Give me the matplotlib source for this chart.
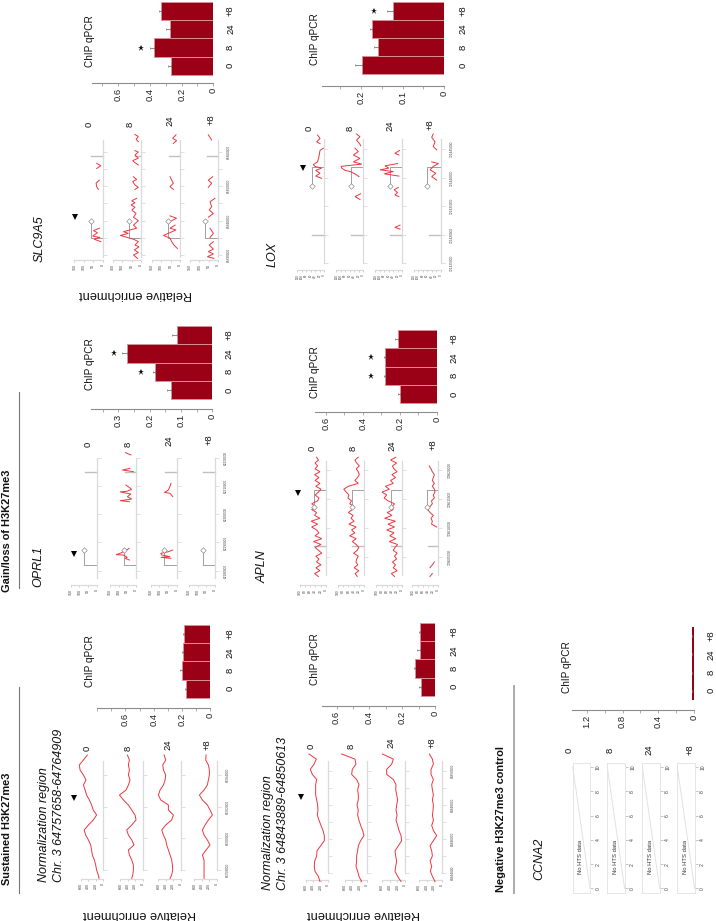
import numpy as np
from matplotlib import pyplot as plt

plt.rcParams["font.family"] = ["Liberation Sans", "DejaVu Sans"]

W, H = 716.0, 921.0
nan = float("nan")

times = ["0", "8", "24", "+8"]

# ---- ChIP qPCR bars, order 0, 8, 24, +8
bar_sust1 = [0.167, 0.20, 0.19, 0.186]
err_sust1 = [0.18, 0.215, 0.20, 0.195]
bar_sust2 = [0.085, 0.122, 0.09, 0.09]
err_sust2 = [0.10, 0.13, 0.11, 0.10]
bar_oprl1 = [0.132, 0.183, 0.271, 0.114]
err_oprl1 = [0.146, 0.188, 0.289, 0.128]
bar_apln = [0.20, 0.279, 0.279, 0.21]
err_apln = [0.21, 0.285, 0.285, 0.225]
bar_slc9a5 = [0.267, 0.373, 0.274, 0.33]
err_slc9a5 = [0.284, 0.40, 0.30, 0.34]
bar_lox = [0.198, 0.16, 0.173, 0.122]
err_lox = [0.214, 0.169, 0.178, 0.138]
bar_ccna2 = [0.016, 0.014, 0.014, 0.016]
err_ccna2 = [0.024, 0.022, 0.022, 0.024]

# star value per timepoint (None = no star)
star_oprl1 = [None, 0.228, 0.315, None]
star_apln = [None, 0.355, 0.355, None]
star_slc9a5 = [None, 0.455, None, None]
star_lox = [None, None, None, 0.168]

# ---- tracks, positions in kb
sust1_pos = [64757.474, 64757.684, 64758.0, 64758.316, 64758.632, 64758.947, 64759.263,
             64759.579, 64759.895, 64760.211, 64760.526, 64760.842, 64761.158, 64761.474,
             64761.789, 64762.105, 64762.421, 64762.737, 64763.053, 64763.368, 64763.684,
             64764.0, 64764.316, 64764.632, 64764.947, 64765.263]
sust1_t0 = [115, 135, 180, 205, 240, 295, 315, 340, 400, 475, 515, 400, 270, 180, 270, 315,
            375, 450, 490, 535, 465, 535, 625, 645, 535, 430]
sust1_t8 = [295, 268, 251, 251, 295, 358, 385, 233, 295, 385, 430, 295, 179, 206, 295, 385,
            519, 626, 447, 385, 340, 385, 358, 385, 358, 412]
sust1_t24 = [286, 242, 215, 224, 242, 286, 331, 376, 403, 465, 510, 403, 242, 197, 331, 331,
             537, 600, 555, 465, 420, 403, 465, 483, 403, 447]
sust1_t32 = [340, 340, 340, 340, 340, 385, 286, 179, 251, 340, 385, 313, 224, 116, 179, 251,
             385, 465, 340, 251, 224, 197, 197, 224, 295, 286]

sust2_pos = [64843.5, 64843.8, 64844.1, 64844.4, 64844.7, 64845.0, 64845.3, 64845.6, 64845.9,
             64846.2, 64846.5, 64846.8, 64847.1, 64847.4, 64847.7, 64848.0, 64848.3, 64848.6,
             64848.9, 64849.2, 64849.5, 64849.8, 64850.1, 64850.4, 64850.7, 64851.0]
sust2_t0 = [220, 264, 352, 370, 360, 308, 300, 202, 105, 105, 140, 194, 246, 290, 273, 282,
            308, 334, 334, 334, 308, 422, 475, 378, 316, 510]
sust2_t8 = [150, 220, 255, 300, 282, 282, 255, 238, 176, 88, 123, 176, 220, 255, 238, 273,
            238, 238, 255, 220, 282, 414, 396, 300, 326, 678]
sust2_t24 = [106, 194, 264, 246, 220, 246, 264, 176, 88, 106, 158, 194, 238, 211, 238, 220,
             194, 220, 246, 238, 308, 484, 484, 352, 308, 598]
sust2_t32 = [176, 246, 299, 264, 308, 246, 264, 308, 220, 132, 220, 264, 220, 246, 229, 220,
             246, 220, 246, 264, 220, 282, 282, 220, 246, 326]

oprl1_t0_pos, oprl1_t0 = [], []
oprl1_t8_pos = [62183.78, 62184.37, 62184.72, 62185.55, 62185.67, 62186.14, 62187.08, 62187.9, nan,
                62204.43, 62204.78, 62205.37, 62206.2, 62207.14, 62207.9, 62208.1, 62208.8,
                62209.5, 62210.33, nan, 62215.05, 62215.4, 62215.64, 62216.23, nan,
                62220.95, 62221.77]
oprl1_t8 = [38, 63, 50, 73, 115, 92, 60, 40, nan, 38, 92, 25, 50, 29, 92, 54, 25, 40, 58, nan,
            15, 50, 79, 35, nan, 29, 60]
oprl1_t24_pos = [62184.37, 62184.72, 62184.96, 62185.55, 62186.14, 62186.73, 62187.32, nan,
                 62206.2, 62207.38, 62207.73, 62208.56, 62209.97, 62210.9]
oprl1_t24 = [33, 92, 38, 86, 92, 48, 23, nan, 23, 38, 71, 48, 38, 33]
oprl1_t32_pos, oprl1_t32 = [], []

apln_pos = [128601.7, 128602.2, 128602.7, 128603.2, 128603.7, 128604.2, 128604.7, 128605.2,
            128605.7, 128606.2, 128606.7, 128607.2, 128607.7, 128608.2, 128608.7, 128609.2,
            128609.7, 128610.2, 128610.7, 128611.2, 128611.7, 128612.2, 128612.7, 128613.2,
            128613.7, 128614.2, 128614.7, 128615.2, 128615.7, 128616.2, 128616.7, 128617.2,
            128617.7, 128618.2, 128618.7, 128619.2, 128619.7, 128620.2, 128620.7, 128621.2,
            128621.7, 128622.2]
apln_t0 = [28, 43, 22, 38, 18, 35, 26, 38, 15, 28, 41, 18, 47, 15, 41, 26, 35, 54, 31, 56, 22,
           43, 35, 54, 38, 54, 31, 26, 41, 28, 18, 38, 22, 41, 26, 43, 22, 41, 31, 41, 28, 35]
apln_t8 = [26, 34, 20, 38, 24, 31, 28, 22, 40, 26, 20, 30, 45, 30, 55, 35, 48, 30, 58, 38, 50,
           42, 60, 45, 38, 55, 48, 62, 58, 68, 78, 60, 22, 35, 25, 18, 22, 30, 18, 28, 35, 22]
apln_t24 = [30, 42, 20, 35, 26, 38, 22, 30, 20, 35, 28, 18, 50, 25, 48, 32, 60, 30, 55, 26, 68,
            40, 58, 35, 40, 30, 55, 70, 60, 78, 50, 65, 35, 45, 26, 40, 20, 32, 38, 22, 45, 25]
apln_t32 = [32, 23, nan, 32, 23, 15, nan, nan, nan, nan, nan, nan, nan, nan, nan, nan, nan, 6,
            26, 23, 28, 19, 32, 41, 32, 23, 26, 15, 19, 13, 15, 23, 15, 23, 19, 15, 23, 28, 35,
            nan, nan, nan]

slc_t0_pos = [65833.9, 65834.6, 65835.1, 65835.5, 65836.5, 65837.1, 65837.8, nan, 65849.1,
              65849.9, 65850.9, 65851.8, nan, 65855.2, 65856.0, 65856.7]
slc_t0 = [10, 46, 14, 53, 28, 49, 18, nan, 23, 32, 35, 18, nan, 32, 10, 32]
slc_t8_pos = [65829.0, 65830.0, 65830.7, 65831.5, 65832.4, 65832.9, 65833.9, 65834.6, 65835.7,
              65836.3, 65836.8, 65837.8, 65838.7, 65840.0, 65841.0, 65842.1, 65843.1, 65843.9,
              65844.6, 65845.2, 65845.8, 65846.5, nan, 65849.1, 65849.7, 65850.4, 65851.4,
              65852.0, 65852.8, nan, 65856.2, 65856.9, 65857.5, 65858.2, 65859.1, 65860.0,
              65860.4, nan, 65863.0, 65863.7, 65864.5, 65865.1]
slc_t8 = [18, 40, 14, 35, 10, 32, 14, 40, 110, 67, 93, 23, 40, 14, 40, 26, 49, 32, 53, 32, 49,
          23, nan, 32, 14, 32, 44, 23, 40, nan, 14, 32, 44, 14, 32, 14, 32, nan, 14, 26, 14, 32]
slc_t24_pos = [65831.9, 65832.9, 65833.9, 65834.9, 65835.7, 65836.3, 65837.3, 65837.8, 65838.7,
               nan, 65840.0, 65840.7, 65841.4, nan, 65849.1, 65849.9, 65850.9, 65851.8, 65852.8,
               nan, 65862.5, 65863.3, 65864.0, 65865.0]
slc_t24 = [14, 32, 44, 53, 88, 62, 21, 53, 26, nan, 44, 18, 53, nan, 35, 53, 35, 44, 53, nan,
           35, 18, 39, 21]
slc_t32_pos = [65829.0, 65829.5, 65830.3, 65831.0, 65831.7, 65832.9, 65833.9, nan, 65835.1,
               65836.3, 65837.8, nan, 65841.0, 65842.1, 65843.1, 65844.1, 65845.5, 65846.5, nan,
               65849.7, 65850.9, 65851.8, 65852.8, nan, 65863.5, 65865.0]
slc_t32 = [23, 58, 26, 53, 26, 48, 26, nan, 44, 26, 44, nan, 53, 26, 48, 35, 44, 18, nan, 53,
           35, 53, 30, nan, 35, 53]

lox_t0_pos = [121439.9, 121440.3, 121440.8, 121441.3, 121441.7, 121442.0, 121442.3, 121442.8,
              121443.7, 121444.8, 121445.2, nan, 121446.0, 121446.3, 121446.9, 121447.5]
lox_t0 = [12, 38, 19, 38, 12, 41, 49, 30, 24, 19, 4, nan, 19, 34, 19, 30]
lox_t8_pos = [121436.2, 121436.7, 121437.2, nan, 121440.2, 121440.7, 121441.1, 121441.3,
              121441.7, 121442.0, 121442.4, 121442.8, 121443.4, 121444.0, 121444.6, 121445.2,
              nan, 121445.6, 121445.9, 121446.6, 121447.2, 121447.7]
lox_t8 = [15, 37, 12, nan, 19, 37, 59, 81, 96, 99, 7, 44, 15, 44, 22, 37, nan, 12, 15, 30, 15, 30]
lox_t24_pos = [121431.0, 121431.3, 121431.7, nan, 121436.7, 121437.0, 121437.4, 121437.9,
               121438.3, nan, 121440.3, 121440.7, 121441.1, 121441.4, 121441.7, 121442.1,
               121442.5, nan, 121444.0, 121444.3, 121444.8]
lox_t24 = [10, 33, 10, nan, 15, 33, 21, 36, 18, nan, 15, 80, 40, 99, 60, 77, 21, nan, 15, 33, 12]
lox_t32_pos = [121439.6, 121440.2, 121440.8, 121441.4, 121442.0, 121442.5, 121442.8, nan,
               121444.9, 121445.5, 121446.3, 121447.1, 121447.7]
lox_t32 = [18, 40, 22, 47, 33, 10, 40, nan, 18, 33, 25, 40, 33]

ccna2_pos = [0, 10]
ccna2_val = [0, 1]

# ---- drawing
fig = plt.figure(figsize=(7.16, 9.21), dpi=100)
GREY = "#dadada"
TXT = "#222222"


def px_axes(x0, y0, x1, y1):
    ax = fig.add_axes([x0 / W, 1 - y1 / H, (x1 - x0) / W, (y1 - y0) / H])
    ax.patch.set_visible(False)
    return ax


def txt(x, y, s, **kw):
    kw.setdefault("ha", "center")
    kw.setdefault("va", "center")
    kw.setdefault("rotation", 90)
    kw.setdefault("color", "#111111")
    fig.text(x / W, 1 - y / H, s, **kw)


def draw_bars(vals, errs, zero, left, per_unit, bar_top, bar_bot, axis_y, ticks, labels, label_x, stars=None,
              edge="#d98f96"):
    ax = px_axes(left, bar_top, zero, axis_y)
    ax.set_xlim((zero - left) / per_unit, 0)
    step = (bar_bot - bar_top) / 4.0
    ax.set_ylim(-0.5 - (axis_y - bar_bot) / step, 3.5)
    ypos = np.arange(4)
    ax.barh(ypos, vals, height=1.0, color="#9a0016", edgecolor=edge, linewidth=0.7)
    ax.errorbar(vals, ypos, xerr=[np.zeros(4), np.array(errs) - np.array(vals)], fmt="none",
                ecolor="#777777", elinewidth=0.6, capsize=0.8, capthick=0.5)
    if stars:
        for i, s in enumerate(stars):
            if s is not None:
                ax.plot(s, ypos[i], marker="*", ms=4.6, color="#111111", mew=0, clip_on=False)
    for k in ["left", "top", "right"]:
        ax.spines[k].set_visible(False)
    ax.spines["bottom"].set_color("#8c8c8c")
    ax.spines["bottom"].set_linewidth(0.8)
    ax.set_xticks(ticks)
    ax.set_xticklabels(labels, rotation=90, fontsize=6.8, color=TXT)
    ax.tick_params(axis="x", length=2, width=0.5, color="#8c8c8c", pad=1.5)
    ax.set_yticks([])
    for i, t in enumerate(times):
        txt(label_x, bar_bot - step * (i + 0.5), t, fontsize=6.8)


def draw_track(pos, val, zero, scale_px, vmax, ref, top, axis_y, spine, vticks, gticks, glabels, time_lab,
               diamond=None, stem=None, thick=None, vtext=2.6):
    (p1, y1), (p2, y2) = ref
    per_px = (p2 - p1) / (y1 - y2)
    ax = px_axes(zero - scale_px, top, zero, axis_y)
    ax.set_xlim(vmax, 0)
    ax.set_ylim(p1 - (axis_y - y1) * per_px, p2 + (y2 - top) * per_px)
    if len(pos):
        ax.plot(val, pos, color="#ee3540", lw=0.7, clip_on=False, solid_joinstyle="miter", zorder=3)
    if diamond is not None:
        d_val, d_pos = diamond
        ax.plot([0, d_val, d_val], [stem, stem, d_pos], color="#a0a0a0", lw=0.7, clip_on=False, zorder=2)
        ax.plot(d_val, d_pos, marker="D", ms=2.8, mfc="white", mec="#777777", mew=0.4, clip_on=False, zorder=4)
    if thick is not None:
        ax.plot([0, thick[1]], [thick[0], thick[0]], color="#c0c0c0", lw=1.0, clip_on=False, zorder=2)
    for k in ["left", "top"]:
        ax.spines[k].set_visible(False)
    for k in ["right", "bottom"]:
        ax.spines[k].set_color(GREY)
        ax.spines[k].set_linewidth(0.9)
    ax.spines["right"].set_bounds(spine[0], spine[1])
    ax.spines["bottom"].set_bounds(0, vmax)
    ax.yaxis.tick_right()
    ax.set_yticks(gticks)
    ax.set_yticklabels(glabels, rotation=90, va="center", fontsize=2.3, color="#444444")
    ax.tick_params(axis="y", length=3, width=0.6, color=GREY, pad=3.5)
    ax.set_xticks(vticks)
    ax.set_xticklabels([str(v) for v in vticks], rotation=90, fontsize=vtext, color="#444444")
    ax.tick_params(axis="x", length=1.5, width=0.4, color="#aaaaaa", pad=1.5)


def draw_locus(tracks, zeros, scale_px, vmax, ref, top, axis_y, spine, vticks, gticks, glabels, time_xy,
               diamonds=None, stem=None, thicks=None, vtext=2.6):
    for i, (pos, val) in enumerate(tracks):
        labs = glabels if i == 3 else ["" for g in gticks]
        draw_track(pos, val, zeros[i], scale_px, vmax, ref, top, axis_y, spine, vticks, gticks, labs, times[i],
                   diamond=diamonds[i] if diamonds else None, stem=stem,
                   thick=thicks[i] if thicks else None, vtext=vtext)
        txt(time_xy[i][0], time_xy[i][1], times[i], fontsize=6.8)


# Sustained, first region
draw_locus([(sust1_pos, sust1_t0), (sust1_pos, sust1_t8), (sust1_pos, sust1_t24), (sust1_pos, sust1_t32)],
           [103.3, 142.7, 180.7, 216.7], 22.3, 600, ((64758.0, 870), (64764.0, 775)), 750, 879.3,
           (64758.0, 64764.9), [600, 400, 200, 0], [64758, 64760, 64762, 64764],
           ["64758000", "64760000", "64762000", "64764000"],
           [(86.7, 748), (128, 748), (167.7, 745), (207, 745)])
# Sustained, second region
draw_locus([(sust2_pos, sust2_t0), (sust2_pos, sust2_t8), (sust2_pos, sust2_t24), (sust2_pos, sust2_t32)],
           [328.3, 367.3, 405, 441.7], 22.7, 600, ((64844.0, 873), (64850.0, 771)), 755, 880,
           (64844.0, 64850.6), [600, 400, 200, 0], [64844, 64845, 64846, 64847, 64848, 64849, 64850],
           ["64844000", "", "64846000", "", "64848000", "", "64850000"],
           [(310.7, 746), (350.7, 746), (391, 743), (431.7, 743)])
# OPRL1
draw_locus([(oprl1_t0_pos, oprl1_t0), (oprl1_t8_pos, oprl1_t8), (oprl1_t24_pos, oprl1_t24), (oprl1_t32_pos, oprl1_t32)],
           [96.7, 136, 176.7, 215], 26, 150, ((62180.0, 570.7), (62220.0, 457.7)), 450, 585,
           (62177.3, 62220.0), [150, 100, 50, 0], [62180, 62190, 62200, 62210, 62220],
           ["62180000", "62190000", "62200000", "62210000", "62220000"],
           [(87.7, 444), (128.3, 444), (169.3, 441), (209, 440)],
           diamonds=[(71, 62187.3), (67, 62187.3), (71, 62187.3), (71, 62187.3)], stem=62181.9,
           thicks=[(62215.0, 68), (62215.0, 66), (62215.0, 68), (62215.0, 68)])
# APLN
draw_locus([(apln_pos, apln_t0), (apln_pos, apln_t8), (apln_pos, apln_t24), (apln_pos, apln_t32)],
           [325.7, 364, 402.3, 438.3], 26, 100, ((128605.0, 557.3), (128620.0, 470)), 452, 585,
           (128602.0, 128621.6), [100, 80, 60, 40, 20, 0], [128605, 128610, 128615, 128620],
           ["128605000", "128610000", "128615000", "128620000"],
           [(312, 448), (352.7, 448), (392.3, 446), (432.7, 445)],
           diamonds=[(45, 128613.6), (45, 128613.6), (45, 128613.6), (42, 128613.6)], stem=128616.6,
           thicks=[(128606.9, 45), (128606.9, 45), (128606.9, 45), (128606.9, 40)], vtext=2.4)
# SLC9A5
draw_locus([(slc_t0_pos, slc_t0), (slc_t8_pos, slc_t8), (slc_t24_pos, slc_t24), (slc_t32_pos, slc_t32)],
           [102.7, 141, 180, 218.3], 28.3, 150, ((65830.0, 255), (65860.0, 152)), 130, 260,
           (65829.5, 65863.5), [150, 100, 50, 0], [65830, 65835, 65840, 65845, 65850, 65855, 65860],
           ["65830000", "", "65840000", "", "65850000", "", "65860000"],
           [(89.3, 124), (130, 124), (170, 121), (210.7, 120)],
           diamonds=[(62, 65840.0), (62, 65840.0), (62, 65840.0), (70, 65840.0)], stem=65835.0,
           thicks=[(65858.8, 60), (65858.8, 30), (65858.8, 60), (65858.8, 60)])
# LOX
draw_locus([(lox_t0_pos, lox_t0), (lox_t8_pos, lox_t8), (lox_t24_pos, lox_t24), (lox_t32_pos, lox_t32)],
           [324.3, 363.3, 402.3, 440.7], 27, 120, ((121425.0, 263.3), (121445.0, 149.3)), 130, 270,
           (121425.0, 121446.8), [120, 100, 80, 60, 40, 20, 0], [121425, 121430, 121435, 121440, 121445],
           ["121425000", "121430000", "121435000", "121440000", "121445000"],
           [(309.3, 128), (350, 128), (390, 126), (430, 125)],
           diamonds=[(53, 121438.6), (55, 121438.6), (55, 121438.6), (59, 121438.6)], stem=121441.9,
           thicks=[(121430.0, 53), (121430.0, 53), (121430.0, 53), (121430.0, 53)], vtext=2.2)

# CCNA2, no data boxes
for i, left in enumerate([572.7, 607.3, 642.3, 677.3]):
    ax = px_axes(left, 763.3, left + 17.3, 893.3)
    ax.set_xlim(1.0, 0)
    ax.set_ylim(-0.4, 10.3)
    ax.plot(ccna2_val, ccna2_pos, color="#e2e2e2", lw=0.7, clip_on=False)
    for k in ax.spines:
        ax.spines[k].set_color("#e2e2e2")
        ax.spines[k].set_linewidth(0.6)
        ax.spines[k].set_linestyle((0, (1, 1)))
    ax.spines["right"].set_linestyle("-")
    ax.yaxis.tick_right()
    ax.set_yticks([0, 2, 4, 6, 8, 10])
    ax.set_yticklabels(["0", "2", "4", "6", "8", "10"], rotation=90, va="center", fontsize=3.6, color="#444444")
    ax.tick_params(axis="y", length=2, width=0.4, color="#999999", pad=2)
    ax.set_xticks([])
    txt(left + 8.3, 856.7, "No HTS data", fontsize=4.2, color="#333333")
for x, t in zip([569, 610, 649, 690], times):
    txt(x, 750, t, fontsize=6.8)

# bars
draw_bars(bar_sust1, err_sust1, 210, 97.3, 143.3, 625, 697.7, 708.3, np.arange(0, 0.81, 0.1),
          ["0", "", "0.2", "", "0.4", "", "0.6", "", ""], 230)
draw_bars(bar_sust2, err_sust2, 435, 321.7, 164, 623, 695.7, 705.7, np.arange(0, 0.61, 0.1),
          ["0", "", "0.2", "", "0.4", "", "0.6"], 454)
draw_bars(bar_oprl1, err_oprl1, 212.3, 90.7, 313, 326, 399.3, 409.3, np.arange(0, 0.36, 0.05),
          ["0", "", "0.1", "", "0.2", "", "0.3", ""], 229.3, stars=star_oprl1)
draw_bars(bar_apln, err_apln, 436.7, 315, 185, 330, 403.3, 412.3, np.arange(0, 0.61, 0.1),
          ["0", "", "0.2", "", "0.4", "", "0.6"], 454, stars=star_apln)
draw_bars(bar_slc9a5, err_slc9a5, 213.3, 91.7, 158.3, 1.7, 75, 83.3, np.arange(0, 0.71, 0.1),
          ["0", "", "0.2", "", "0.4", "", "0.6", ""], 230.5, stars=star_slc9a5)
draw_bars(bar_lox, err_lox, 444.3, 322, 416.7, 1.7, 74.3, 86, np.arange(0, 0.26, 0.05),
          ["0", "", "0.1", "", "0.2", ""], 463, stars=star_lox)
draw_bars(bar_ccna2, err_ccna2, 693.7, 572, 89, 626.7, 700, 710, np.arange(0, 1.21, 0.2),
          ["0", "", "0.4", "", "0.8", "", "1.2"], 710.7, edge="none")

for x, y in [(90, 661), (315, 659), (90, 364), (315, 372), (90, 41), (315, 39), (567, 667)]:
    txt(x, y, "ChIP qPCR", fontsize=7.2)

# headings
txt(6.7, 829, "Sustained H3K27me3", fontsize=7.9, fontweight="bold")
txt(6.7, 530.8, "Gain/loss of H3K27me3", fontsize=7.9, fontweight="bold")
txt(501, 819, "Negative H3K27me3 control", fontsize=7.9, fontweight="bold")

txt(140, 914, "Relative enrichment", fontsize=9.2, rotation=180)
txt(364, 914, "Relative enrichment", fontsize=9.2, rotation=180)
txt(135, 294, "Relative enrichment", fontsize=9.2, rotation=180)

for x, yb, s in [(44, 881.7, "Normalization region"), (59, 881.7, "Chr. 3 64757658-64764909"),
                 (268.5, 890, "Normalization region"), (283.5, 890, "Chr. 3 64843889-64850613"),
                 (38.3, 586.7, "OPRL1"), (262.7, 583, "APLN"), (39.3, 261.7, "SLC9A5"),
                 (273, 266.7, "LOX"), (539, 880, "CCNA2")]:
    txt(x, yb, s, fontsize=9, style="italic", va="bottom")

# section rules
overlay = px_axes(0, 0, W, H)
overlay.set_xlim(0, W)
overlay.set_ylim(H, 0)
overlay.axis("off")
overlay.plot([19.3, 19.3], [686.7, 893], color="#777777", lw=0.8)
overlay.plot([19.3, 19.3], [391.7, 588], color="#777777", lw=0.8)
overlay.plot([514, 514], [686, 893], color="#aaaaaa", lw=1.4)
# locus arrowheads
overlay.plot([74, 300.7, 74, 298.3, 75.3, 302.7], [798.3, 796.7, 554.3, 493.3, 217.3, 168.3],
             ls="none", marker="v", ms=4.8, color="black", mew=0)

fig.savefig("out.png", dpi=100)
